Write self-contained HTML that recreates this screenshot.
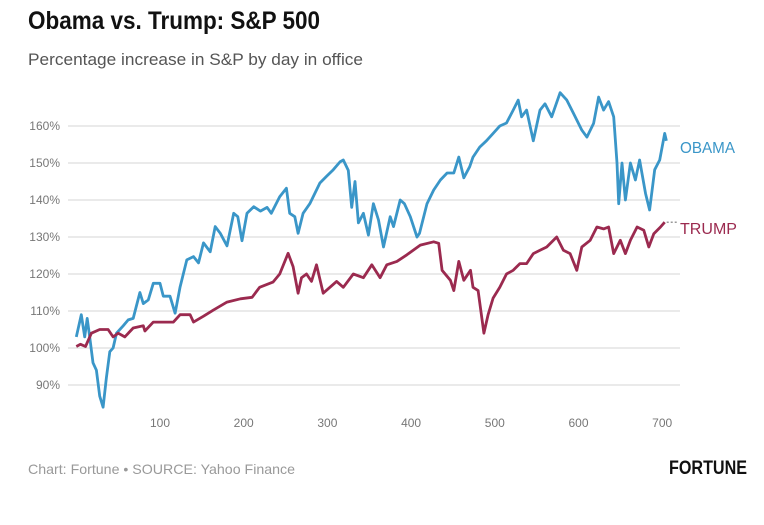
<!DOCTYPE html>
<html><head><meta charset="utf-8">
<style>
body{margin:0;background:#fff;width:764px;height:520px;overflow:hidden;font-family:"Liberation Sans",sans-serif;}
</style></head>
<body>
<svg width="764" height="520" viewBox="0 0 764 520">
<text x="28" y="29" font-family="'Liberation Sans',sans-serif" font-weight="bold" font-size="25" fill="#111" textLength="292" lengthAdjust="spacingAndGlyphs">Obama vs. Trump:  S&amp;P 500</text>
<text x="28" y="65" font-size="17" fill="#555" textLength="335" lengthAdjust="spacingAndGlyphs">Percentage increase in S&amp;P by day in office</text>
<g id="grid"></g><g id="yticks"></g><g id="xticks"></g>
<path id="obama" fill="none" stroke="#3a96c8" stroke-width="2.8" stroke-linejoin="round"/>
<path id="trump" fill="none" stroke="#9b2a4f" stroke-width="2.8" stroke-linejoin="round"/>
<line id="tlead" stroke="#999" stroke-width="1.5" stroke-dasharray="2,2"/>
<text id="olab" font-size="16" fill="#3a96c8" textLength="55" lengthAdjust="spacingAndGlyphs">OBAMA</text>
<text id="tlab" font-size="16" fill="#9b2a4f" textLength="57" lengthAdjust="spacingAndGlyphs">TRUMP</text>
<text x="28" y="474" font-size="14" fill="#999" textLength="267" lengthAdjust="spacingAndGlyphs">Chart: Fortune • SOURCE: Yahoo Finance</text>
<text x="669" y="474" font-family="'Liberation Sans',sans-serif" font-weight="bold" font-size="19" fill="#111" textLength="78" lengthAdjust="spacingAndGlyphs">FORTUNE</text>
</svg>
<script>
const yTicks=[90,100,110,120,130,140,150,160];
const xTicks=[100,200,300,400,500,600,700];
const obamaDays=[0,6,10,13,16,20,24,28,32,36,40,44,48,56,62,68,76,80,86,92,100,104,112,118,124,132,140,146,152,160,166,172,180,188,193,198,204,212,220,228,233,243,251,255,261,265,271,279,291,299,307,315,319,325,329,333,337,343,349,355,361,367,375,379,387,392,399,407,410,419,427,435,443,451,457,463,470,474,482,490,498,506,514,522,528,532,538,546,554,560,568,578,586,594,604,610,618,624,630,636,642,646,648,652,656,662,668,673,680,685,691,697,703,705];
const obamaVals=[103,109,103,108,103,96,94,87,84,92,99,100,104,106,107.6,108,115,112,113,117.5,117.5,114,114,109.4,116.5,123.8,124.7,123,128.4,126,132.8,131,127.6,136.4,135.5,129,136.4,138.2,137,138,136.4,140.9,143.2,136.4,135.5,131,136.4,139,144.6,146.4,148.2,150.3,150.8,148,138,145,133.8,136.4,130.5,139,134.6,127.3,135.5,132.8,140,139,135.5,130,131,139,142.7,145.4,147.3,147.3,151.6,146,149,151.6,154.3,156,158,160,160.8,164.3,167,162.5,164.3,156,164.3,166,162.5,169,167,163.4,158.9,157,160.7,167.8,164.3,166.6,162.5,150,139,150,140,150,145.4,150.8,141.8,137.3,148.2,150.8,158,156];
const trumpDays=[0,5,11,18,28,38,44,50,58,68,80,82,92,116,124,136,140,152,164,180,196,210,219,235,243,253,259,265,269,275,281,287,295,303,311,319,331,343,353,363,371,383,395,411,427,433,437,447,451,457,463,471,474,480,487,492,498,506,514,522,530,538,546,554,562,574,582,590,598,604,614,622,630,636,642,650,656,662,670,678,684,690,698,703];
const trumpVals=[100.4,101,100.4,104,105,105,103,104,103,105.4,106,104.6,107,107,109,109,107,108.6,110.3,112.4,113.3,113.7,116.4,117.8,120,125.6,122,114.8,119,120,118,122.5,114.8,116.4,118,116.4,120,119,122.5,119,122.5,123.4,125.2,127.8,128.7,128.3,121,118.3,115.5,123.4,118.3,121,116.4,115.5,104,109,113.5,116.4,120,121,122.8,122.8,125.5,126.4,127.3,130,126.4,125.5,121,127.3,129.1,132.7,132.2,132.7,125.5,129.1,125.5,129.1,132.7,131.8,127.3,130.9,132.7,134];
const X=d=>76.3+d*0.837;
const Y=v=>348-(v-100)*3.7;
const NS="http://www.w3.org/2000/svg";
const g=document.getElementById('grid'),yt=document.getElementById('yticks'),xt=document.getElementById('xticks');
yTicks.forEach(t=>{
  const l=document.createElementNS(NS,'line');
  l.setAttribute('x1',68);l.setAttribute('x2',680);l.setAttribute('y1',Y(t));l.setAttribute('y2',Y(t));
  l.setAttribute('stroke','#ddd');l.setAttribute('stroke-width','1.3');
  
  
  g.appendChild(l);
  const tx=document.createElementNS(NS,'text');
  tx.setAttribute('x',60);tx.setAttribute('y',Y(t)+4);tx.setAttribute('text-anchor','end');
  tx.setAttribute('font-size','12');tx.setAttribute('fill','#777');tx.textContent=t+'%';
  
  
  yt.appendChild(tx);
});
xTicks.forEach(t=>{
  const tx=document.createElementNS(NS,'text');
  tx.setAttribute('x',X(t));tx.setAttribute('y',427);tx.setAttribute('text-anchor','middle');
  tx.setAttribute('font-size','12');tx.setAttribute('fill','#777');tx.textContent=t;
  
  
  xt.appendChild(tx);
});
const path=(ds,vs)=>ds.map((d,i)=>(i?'L':'M')+X(d).toFixed(1)+','+Y(vs[i]).toFixed(1)).join('');
document.getElementById('obama').setAttribute('d',path(obamaDays,obamaVals));
document.getElementById('trump').setAttribute('d',path(trumpDays,trumpVals));
const ol=document.getElementById('olab');ol.setAttribute('x',680);ol.setAttribute('y',153);
const tl=document.getElementById('tlab');tl.setAttribute('x',680);tl.setAttribute('y',234);
const lead=document.getElementById('tlead');
const tLast=trumpVals[trumpVals.length-1];
lead.setAttribute('x1',X(trumpDays[trumpDays.length-1])+2);lead.setAttribute('x2',677);
lead.setAttribute('y1',Y(tLast));lead.setAttribute('y2',Y(tLast));
</script>
</body></html>
